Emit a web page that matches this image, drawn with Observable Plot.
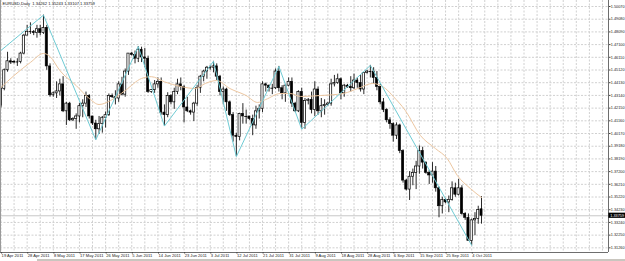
<!DOCTYPE html>
<html><head><meta charset="utf-8">
<script src="https://cdn.jsdelivr.net/npm/d3@7"></script>
<script src="https://cdn.jsdelivr.net/npm/@observablehq/plot@0.6"></script>
<style>
html,body{margin:0;padding:0;background:#fff;overflow:hidden;width:625px;height:261px;}
#chart svg{display:block;}
#strip{height:2px;background:#c9c6bf;position:relative;}
#tab{position:absolute;left:0;top:0;width:37px;height:2px;background:#fff;}
</style></head><body>
<div id="chart"></div>
<div id="strip"><div id="tab"></div></div>
<script>
// ---- data (EURUSD, Daily, bar index 0 = 19 Apr 2011) ----
const titleText = "EURUSD,Daily  1.34262 1.35243 1.33107 1.33759";
const open = [
1.4235,1.4365,1.4510,1.4580,1.4570,1.4575,1.4575,1.4640,1.4780,1.4810,
1.4807,1.4800,1.4830,1.4800,1.4840,1.4540,1.4315,1.4330,1.4345,1.4400,
1.4190,1.4250,1.4120,1.4130,1.4150,1.4230,1.4250,1.4310,1.4150,1.4095,
1.4050,1.4090,1.4140,1.4160,1.4310,1.4300,1.4290,1.4400,1.4320,1.4500,
1.4640,1.4630,1.4600,1.4670,1.4610,1.4600,1.4340,1.4355,1.4400,1.4420,
1.4180,1.4160,1.4310,1.4260,1.4340,1.4400,1.4380,1.4220,1.4190,1.4180,
1.4250,1.4370,1.4460,1.4500,1.4530,1.4530,1.4540,1.4460,1.4340,1.4360,
1.4260,1.4160,1.4000,1.3990,1.4170,1.4150,1.4150,1.4130,1.4080,1.4190,
1.4210,1.4400,1.4390,1.4370,1.4370,1.4500,1.4370,1.4330,1.4390,1.4420,
1.4250,1.4190,1.4340,1.4100,1.4270,1.4280,1.4200,1.4360,1.4190,1.4230,
1.4240,1.4250,1.4400,1.4410,1.4440,1.4330,1.4390,1.4380,1.4370,1.4430,
1.4410,1.4360,1.4490,1.4500,1.4500,1.4450,1.4380,1.4260,1.4200,1.4120,
1.4090,1.4000,1.4080,1.3880,1.3650,1.3580,1.3680,1.3710,1.3760,1.3880,
1.3790,1.3710,1.3690,1.3720,1.3590,1.3450,1.3500,1.3480,1.3500,1.3590,
1.3540,1.3590,1.3390,1.3360,1.3180,1.3340,1.3350,1.34262];
const high = [
1.4380,1.4520,1.4650,1.4600,1.4585,1.4600,1.4650,1.4790,1.4860,1.4880,
1.4820,1.4860,1.4860,1.4940,1.4860,1.4560,1.4340,1.4420,1.4440,1.4460,
1.4260,1.4260,1.4140,1.4170,1.4250,1.4280,1.4340,1.4320,1.4150,1.4120,
1.4150,1.4150,1.4185,1.4325,1.4325,1.4350,1.4420,1.4455,1.4520,1.4640,
1.4650,1.4660,1.4695,1.4690,1.4680,1.4620,1.4360,1.4430,1.4450,1.4450,
1.4240,1.4335,1.4320,1.4370,1.4440,1.4450,1.4390,1.4300,1.4200,1.4260,
1.4390,1.4470,1.4510,1.4540,1.4545,1.4580,1.4560,1.4470,1.4380,1.4370,
1.4270,1.4180,1.4020,1.4175,1.4250,1.4200,1.4150,1.4160,1.4230,1.4240,
1.4420,1.4410,1.4395,1.4400,1.4520,1.4540,1.4390,1.4400,1.4450,1.4450,
1.4260,1.4350,1.4370,1.4290,1.4290,1.4340,1.4420,1.4380,1.4290,1.4280,
1.4260,1.4440,1.4470,1.4480,1.4450,1.4400,1.4400,1.4460,1.4480,1.4450,
1.4470,1.4490,1.4510,1.4548,1.4530,1.4500,1.4400,1.4290,1.4210,1.4140,
1.4100,1.4100,1.4090,1.3890,1.3660,1.3720,1.3740,1.3800,1.3920,1.3910,
1.3795,1.3730,1.3790,1.3760,1.3600,1.3520,1.3510,1.3530,1.3640,1.3630,
1.3660,1.3610,1.3400,1.3390,1.3350,1.3400,1.3450,1.35243];
const low = [
1.4215,1.4350,1.4495,1.4555,1.4560,1.4540,1.4560,1.4630,1.4780,1.4790,
1.4780,1.4760,1.4780,1.4790,1.4510,1.4300,1.4300,1.4290,1.4310,1.4180,
1.4080,1.4110,1.4110,1.4050,1.4100,1.4140,1.4220,1.4130,1.4080,1.3968,
1.4010,1.4020,1.4060,1.4150,1.4290,1.4240,1.4260,1.4310,1.4300,1.4470,
1.4620,1.4560,1.4570,1.4570,1.4530,1.4330,1.4330,1.4330,1.4370,1.4160,
1.4075,1.4140,1.4240,1.4205,1.4320,1.4350,1.4100,1.4180,1.4160,1.4110,
1.4230,1.4330,1.4420,1.4440,1.4510,1.4490,1.4430,1.4310,1.4240,1.4190,
1.4150,1.3950,1.3837,1.3960,1.4090,1.4090,1.4120,1.4000,1.4050,1.4130,
1.4180,1.4340,1.4340,1.4320,1.4360,1.4340,1.4280,1.4260,1.4380,1.4220,
1.4180,1.4180,1.4050,1.4050,1.4240,1.4170,1.4150,1.4160,1.4140,1.4160,
1.4230,1.4230,1.4380,1.4400,1.4280,1.4300,1.4370,1.4340,1.4360,1.4370,
1.4340,1.4320,1.4480,1.4450,1.4400,1.4350,1.4240,1.4180,1.4100,1.4050,
1.3950,1.3970,1.3860,1.3630,1.3570,1.3495,1.3610,1.3580,1.3700,1.3740,
1.3700,1.3620,1.3630,1.3560,1.3360,1.3390,1.3470,1.3400,1.3490,1.3520,
1.3530,1.3380,1.3340,1.3180,1.3145,1.3220,1.3310,1.33107];
const close = [
1.4365,1.4510,1.4580,1.4570,1.4575,1.4575,1.4640,1.4780,1.4810,1.4807,
1.4800,1.4830,1.4800,1.4840,1.4540,1.4315,1.4330,1.4345,1.4400,1.4190,
1.4250,1.4120,1.4130,1.4150,1.4230,1.4250,1.4310,1.4150,1.4095,1.4050,
1.4090,1.4140,1.4160,1.4310,1.4300,1.4290,1.4400,1.4320,1.4500,1.4640,
1.4630,1.4600,1.4670,1.4610,1.4600,1.4340,1.4355,1.4400,1.4420,1.4180,
1.4160,1.4310,1.4260,1.4340,1.4400,1.4380,1.4220,1.4190,1.4180,1.4250,
1.4370,1.4460,1.4500,1.4530,1.4530,1.4540,1.4460,1.4340,1.4360,1.4260,
1.4160,1.4000,1.3990,1.4170,1.4150,1.4150,1.4130,1.4080,1.4190,1.4210,
1.4400,1.4390,1.4370,1.4370,1.4500,1.4370,1.4330,1.4390,1.4420,1.4250,
1.4190,1.4340,1.4100,1.4270,1.4280,1.4200,1.4360,1.4190,1.4230,1.4240,
1.4250,1.4400,1.4410,1.4440,1.4330,1.4390,1.4380,1.4370,1.4430,1.4410,
1.4360,1.4490,1.4500,1.4500,1.4450,1.4380,1.4260,1.4200,1.4120,1.4090,
1.4000,1.4080,1.3880,1.3650,1.3580,1.3680,1.3710,1.3760,1.3880,1.3790,
1.3710,1.3690,1.3720,1.3590,1.3450,1.3500,1.3480,1.3500,1.3590,1.3540,
1.3590,1.3390,1.3360,1.3180,1.3340,1.3350,1.3420,1.33759];

// ZigZag pivots (bar index, price)
const zigIdx   = [-38, 13, 29, 42, 50, 65, 72, 85, 92, 113, 144];
const zigPrice = [1.3860,1.4940,1.3968,1.4695,1.4075,1.4580,1.3837,1.4540,1.4050,1.4548,1.3145];

// Moving average (bar index, price)
const maIdx   = [0,4,9,13,15,18,23,27,30,33.5,38,43,46,50,55,59.5,62.5,66,70,75,78.5,81,85.5,88.5,91.6,97.7,104.7,110,113.6,117.6,120,123.7,128.3,132.9,136.5,139.6,143.6,147];
const maPrice = [1.4376,1.4469,1.4571,1.4641,1.4617,1.4508,1.4391,1.4290,1.4243,1.4274,1.4352,1.4446,1.4460,1.4420,1.4383,1.4368,1.4407,1.4430,1.4368,1.4313,1.4259,1.4282,1.4329,1.4329,1.4306,1.4313,1.4329,1.4376,1.4407,1.4368,1.4306,1.4196,1.4002,1.3900,1.3822,1.3690,1.3588,1.3518];

// price axis tick labels
const yTicks = [1.50070,1.49080,1.48090,1.47100,1.46110,1.45120,1.44130,1.43140,1.42150,1.41160,1.40170,1.39180,1.38190,1.37200,1.36210,1.35220,1.34230,1.33240,1.32250,1.31260];
// time axis labels (bar index, text)
const dateIdx = [0,8,16,24,32,40,48,56,64,72,80,88,96,104,112,120,128,136,144];
const dateText = ["19 Apr 2011","28 Apr 2011","8 May 2011","17 May 2011","26 May 2011","5 Jun 2011","14 Jun 2011","23 Jun 2011","3 Jul 2011","12 Jul 2011","21 Jul 2011","31 Jul 2011","9 Aug 2011","18 Aug 2011","28 Aug 2011","6 Sep 2011","15 Sep 2011","25 Sep 2011","4 Oct 2011"];
const lastPrice = 1.33759;

// ---- layout ----
const W = 625, H = 259, mR = 17, mB = 7;
const xDomain = [-0.153, 185.85];
const yDomain = [1.30896, 1.50538];
const gridIdx = d3.range(0, 188, 4);
const pxPerBar = (W - mR) / (xDomain[1] - xDomain[0]);
const pxPerPrice = (H - mB) / (yDomain[1] - yDomain[0]);
const bw = 0.33;

const candles = open.map((o, i) => ({i, open: o, high: high[i], low: low[i], close: close[i]}));
const isDoji = d => Math.abs(d.close - d.open) < 0.00025;
const bulls = candles.filter(d => !isDoji(d) && d.close > d.open);
const bears = candles.filter(d => !isDoji(d) && d.close < d.open);
const dojis = candles.filter(isDoji);
const zig = zigIdx.map((x, k) => ({x, y: zigPrice[k]}));
const ma = maIdx.map((x, k) => ({x, y: maPrice[k]}));
const dateMap = new Map(dateIdx.map((d, k) => [d, dateText[k]]));

const gridStyle = {stroke: "#d0d0d0", strokeOpacity: 1, strokeDasharray: "2,1.5", strokeWidth: 1};

const chart = Plot.plot({
  width: W, height: H,
  marginTop: 0, marginLeft: 0, marginRight: mR, marginBottom: mB,
  style: {fontFamily: "'Liberation Sans', Arial, sans-serif", fontSize: "4px", background: "#fff", color: "#111"},
  x: {type: "linear", domain: xDomain, axis: null},
  y: {type: "linear", domain: yDomain, axis: null},
  marks: [
    Plot.gridY(yTicks, gridStyle),
    Plot.gridX(gridIdx, gridStyle),
    Plot.ruleY([lastPrice], {stroke: "#c8c8c8", strokeWidth: 1}),
    Plot.ruleX(candles, {x: "i", y1: "low", y2: "high", stroke: "#111", strokeWidth: 0.9}),
    Plot.rect(bears, {x1: d => d.i - bw, x2: d => d.i + bw, y1: "open", y2: "close", fill: "#000", stroke: "#000", strokeWidth: 0.6}),
    Plot.rect(bulls, {x1: d => d.i - bw, x2: d => d.i + bw, y1: "open", y2: "close", fill: "#fff", stroke: "#000", strokeWidth: 0.7}),
    Plot.ruleY(dojis, {y: "close", x1: d => d.i - bw - 0.1, x2: d => d.i + bw + 0.1, stroke: "#000", strokeWidth: 0.9}),
    Plot.line(ma, {x: "x", y: "y", stroke: "#ecc6a0", strokeWidth: 1, curve: "monotone-x", clip: true}),
    Plot.line(zig, {x: "x", y: "y", stroke: "#6fcbd4", strokeWidth: 1, clip: true}),
    // frame lines
    Plot.ruleX([xDomain[1]], {stroke: "#6e6e6e", strokeWidth: 1}),
    Plot.ruleX([xDomain[0]], {stroke: "#9a9a9a", strokeWidth: 1}),
    Plot.ruleY([yDomain[0]], {stroke: "#6e6e6e", strokeWidth: 1}),
    // axes
    Plot.axisY(yTicks, {anchor: "right", tickSize: 1.5, tickPadding: 0.8, tickFormat: d => d.toFixed(5), fontSize: 3.8, fill: "#222", stroke: "#444"}),
    Plot.axisX(dateIdx, {anchor: "bottom", tickSize: 1.5, tickPadding: 0.5, textAnchor: "start", dx: 0.6, tickFormat: d => dateMap.get(d), fontSize: 4.1, fill: "#222", stroke: "#444"}),
    // current price label box
    Plot.rect([lastPrice], {x1: xDomain[1] + 0.4 / pxPerBar, x2: xDomain[1] + 17 / pxPerBar, y1: d => d - 2.6 / pxPerPrice, y2: d => d + 2.6 / pxPerPrice, fill: "#000", clip: false}),
    Plot.text([lastPrice], {x: xDomain[1] + 8.7 / pxPerBar, y: d => d, text: d => d.toFixed(5), fill: "#fff", fontSize: 3.8, textAnchor: "middle"}),
    // title
    Plot.text([titleText], {frameAnchor: "top-left", dx: 2, dy: 2, textAnchor: "start", lineAnchor: "top", fontSize: 4.1, fill: "#111"})
  ]
});
document.getElementById("chart").appendChild(chart);
</script>
</body></html>
